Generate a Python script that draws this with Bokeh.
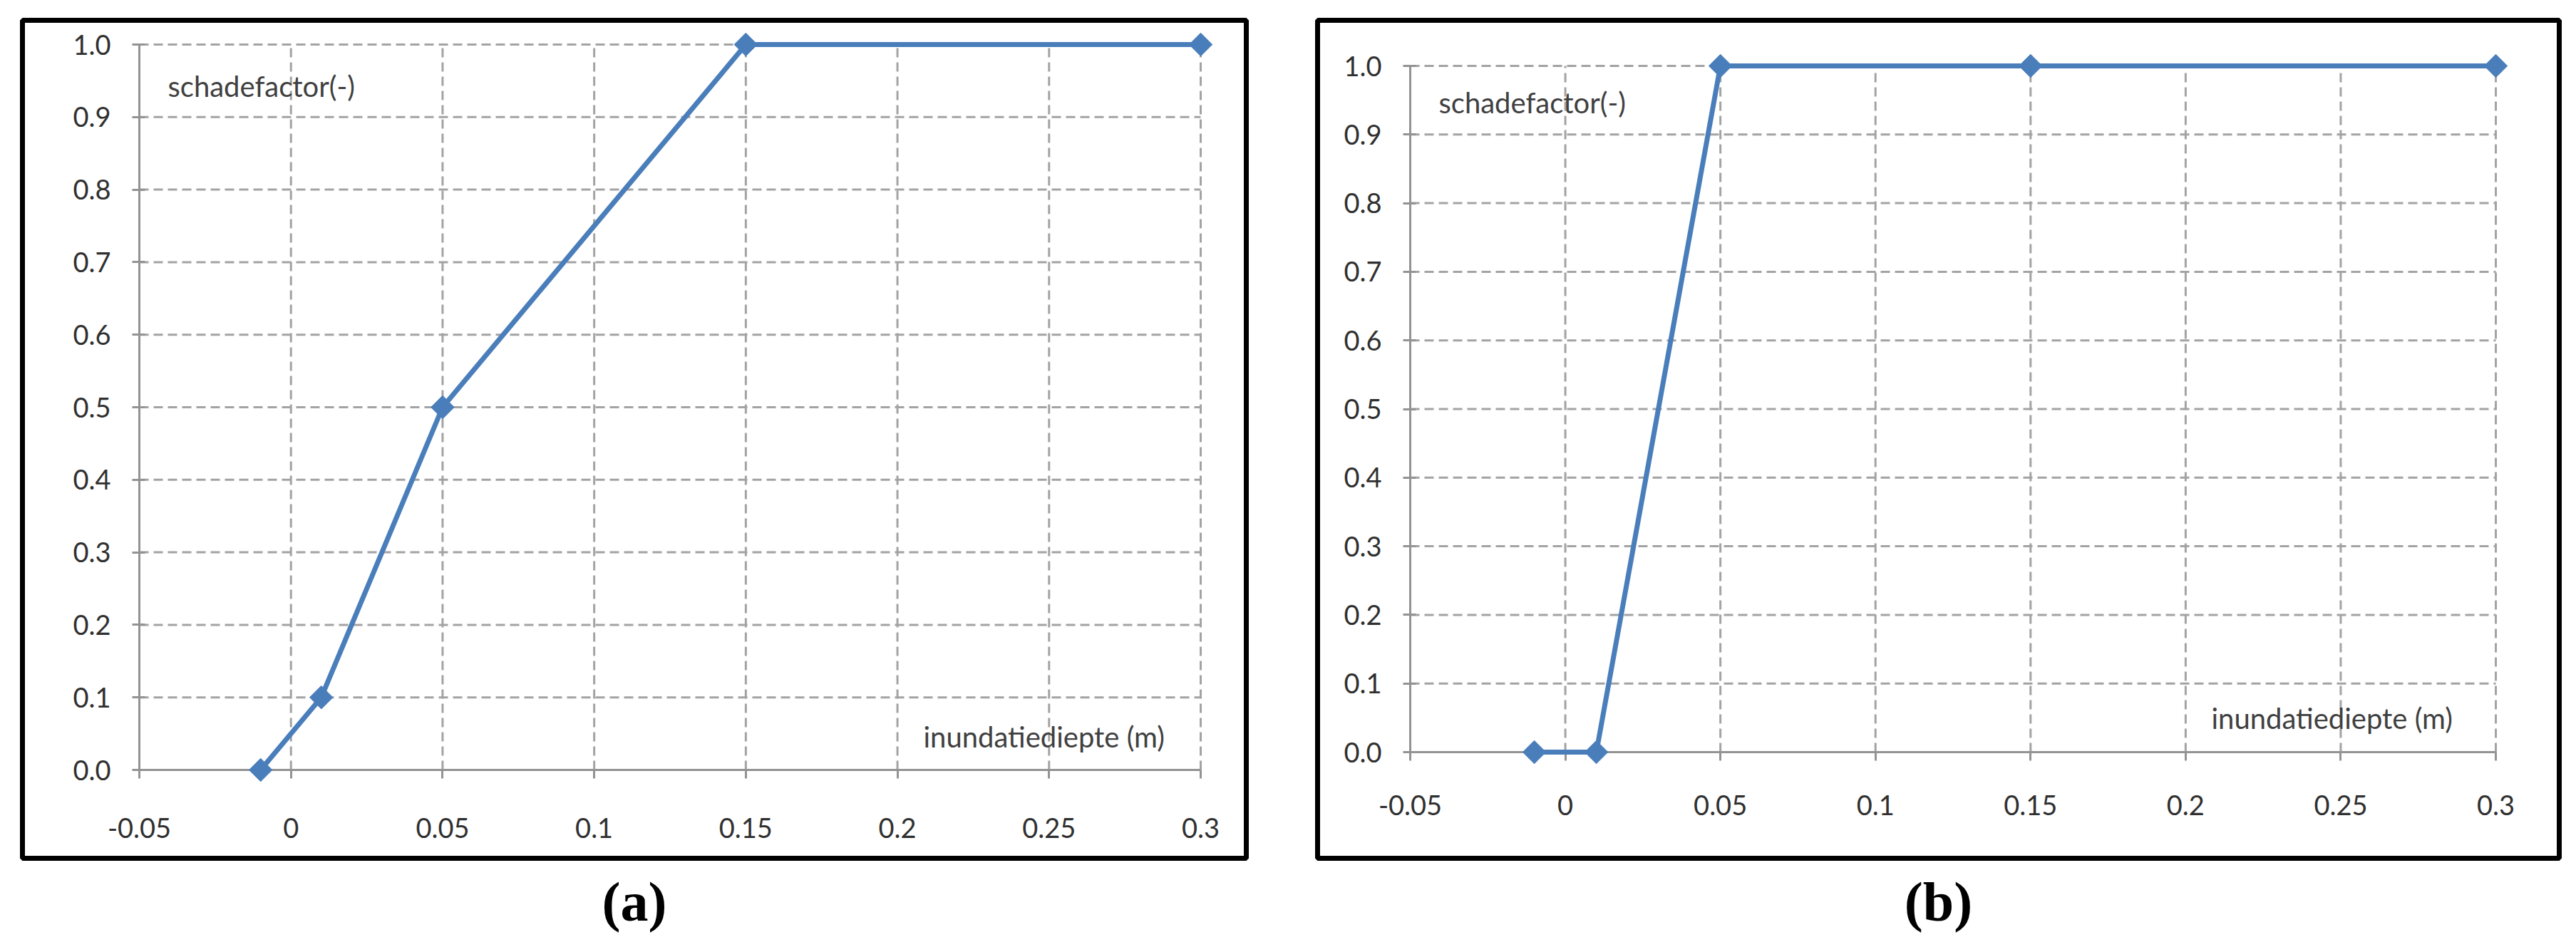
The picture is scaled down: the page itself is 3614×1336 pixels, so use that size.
import math
from bokeh.plotting import figure
from bokeh.models import FixedTicker, Label, Range1d, Title
from bokeh.layouts import row
from bokeh.embed import file_html
from bokeh.resources import INLINE

# ---------------- data ----------------
depth_a = [-0.01, 0.01, 0.05, 0.15, 0.3]
factor_a = [0.0, 0.1, 0.5, 1.0, 1.0]
depth_b = [-0.01, 0.01, 0.05, 0.15, 0.3]
factor_b = [0.0, 0.0, 1.0, 1.0, 1.0]

x_ticks = [-0.05, 0.0, 0.05, 0.1, 0.15, 0.2, 0.25, 0.3]
x_tick_labels = ["-0.05", "0", "0.05", "0.1", "0.15", "0.2", "0.25", "0.3"]
y_ticks = [0.0, 0.1, 0.2, 0.3, 0.4, 0.5, 0.6, 0.7, 0.8, 0.9, 1.0]
y_tick_labels = ["0.0", "0.1", "0.2", "0.3", "0.4", "0.5", "0.6", "0.7", "0.8", "0.9", "1.0"]

y_title = "schadefactor(-)"
x_title = "inundatiediepte (m)"
captions = ["(a)", "(b)"]

# ---------------- layout (page pixels) ----------------
FIG_H = 1320
TOP = 0
LAY_A = dict(ox=0, w=1790, fl=195, fr=1684, ft=62, fb=1080,
             box=(31, 1748, 28, 1204), ylab=(235, 120), xlab=(1295, 1033),
             xstand=55)
LAY_B = dict(ox=1790, w=1816, fl=1978, fr=3501, ft=92, fb=1055,
             box=(1848, 3590, 28, 1204), ylab=(2018, 143), xlab=(3102, 1007),
             xstand=48)

BLUE = "#4a7ebb"
GRID = "#a3a3a3"
AXIS = "#939393"
TXT = "#303030"
FONT = "Lato"


def panel(xs, ys, L, caption):
    fl, fr, ft, fb = L["fl"], L["fr"], L["ft"], L["fb"]
    bl, br, bt, bb = L["box"]
    ox = L["ox"]
    x0, x1 = x_ticks[0], x_ticks[-1]
    y0, y1 = y_ticks[0], y_ticks[-1]

    def X(px):
        return x0 + (px - fl) / (fr - fl) * (x1 - x0)

    def Y(py):
        return y1 - (py - ft) / (fb - ft) * (y1 - y0)

    # the frame is the black box; the data area sits inside it
    p = figure(title=None, frame_width=br - bl, frame_height=bb - bt,
               min_border_left=bl - ox, min_border_right=ox + L["w"] - br,
               min_border_top=bt - TOP, min_border_bottom=TOP + FIG_H - bb,
               x_range=Range1d(X(bl), X(br)), y_range=Range1d(Y(bb), Y(bt)),
               output_backend="svg", toolbar_location=None)
    p.background_fill_color = "white"
    p.border_fill_color = "white"
    p.outline_line_color = "black"
    p.outline_line_width = 7
    p.xgrid.visible = False
    p.ygrid.visible = False

    # dashed grid limited to the data area
    nx, ny = len(x_ticks), len(y_ticks)
    p.segment(x0=x_ticks, y0=[y0] * nx, x1=x_ticks, y1=[y1] * nx,
              line_color=GRID, line_width=3, line_dash="13 7")
    p.segment(x0=[x0] * ny, y0=y_ticks, x1=[x1] * ny, y1=y_ticks,
              line_color=GRID, line_width=3, line_dash="13 7")

    p.xaxis.fixed_location = y0
    p.yaxis.fixed_location = x0
    p.xaxis.bounds = (x0, x1)
    p.yaxis.bounds = (y0, y1)
    p.xaxis.ticker = FixedTicker(ticks=x_ticks)
    p.yaxis.ticker = FixedTicker(ticks=y_ticks)
    p.xaxis.major_label_overrides = {t: s for t, s in zip(x_ticks, x_tick_labels)}
    p.yaxis.major_label_overrides = {t: s for t, s in zip(y_ticks, y_tick_labels)}
    for ax in (p.xaxis, p.yaxis):
        ax.axis_line_color = AXIS
        ax.axis_line_width = 3
        ax.major_tick_line_color = AXIS
        ax.major_tick_line_width = 3
        ax.minor_tick_line_color = None
        ax.major_label_text_font = FONT
        ax.major_label_text_font_size = "38px"
        ax.major_label_text_color = TXT
    p.xaxis.major_tick_out = 12
    p.xaxis.major_tick_in = 0
    p.xaxis.major_label_standoff = L["xstand"]
    p.yaxis.major_tick_out = 10
    p.yaxis.major_tick_in = 8
    p.yaxis.major_label_standoff = 30

    ln = p.line(xs, ys, line_color=BLUE, line_width=7)
    sc = p.scatter(xs, ys, marker="square", angle=math.pi / 4, size=23,
                   fill_color=BLUE, line_color=BLUE)
    ln.level = "overlay"
    sc.level = "overlay"

    p.add_layout(Label(x=X(L["ylab"][0]), y=Y(L["ylab"][1]), text=y_title,
                       text_font=FONT, text_font_size="40px", text_color="#404040",
                       text_align="left", text_baseline="middle"))
    p.add_layout(Label(x=X(L["xlab"][0]), y=Y(L["xlab"][1]), text=x_title,
                       text_font=FONT, text_font_size="40px", text_color="#404040",
                       text_align="left", text_baseline="middle"))

    p.add_layout(Title(text=caption, align="center", text_font="Liberation Serif",
                       text_font_size="78px", text_font_style="bold",
                       text_color="black", standoff=30), "below")
    return p


pa = panel(depth_a, factor_a, LAY_A, captions[0])
pb = panel(depth_b, factor_b, LAY_B, captions[1])
layout = row(pa, pb)

open("out.html", "w").write(file_html(layout, INLINE))
